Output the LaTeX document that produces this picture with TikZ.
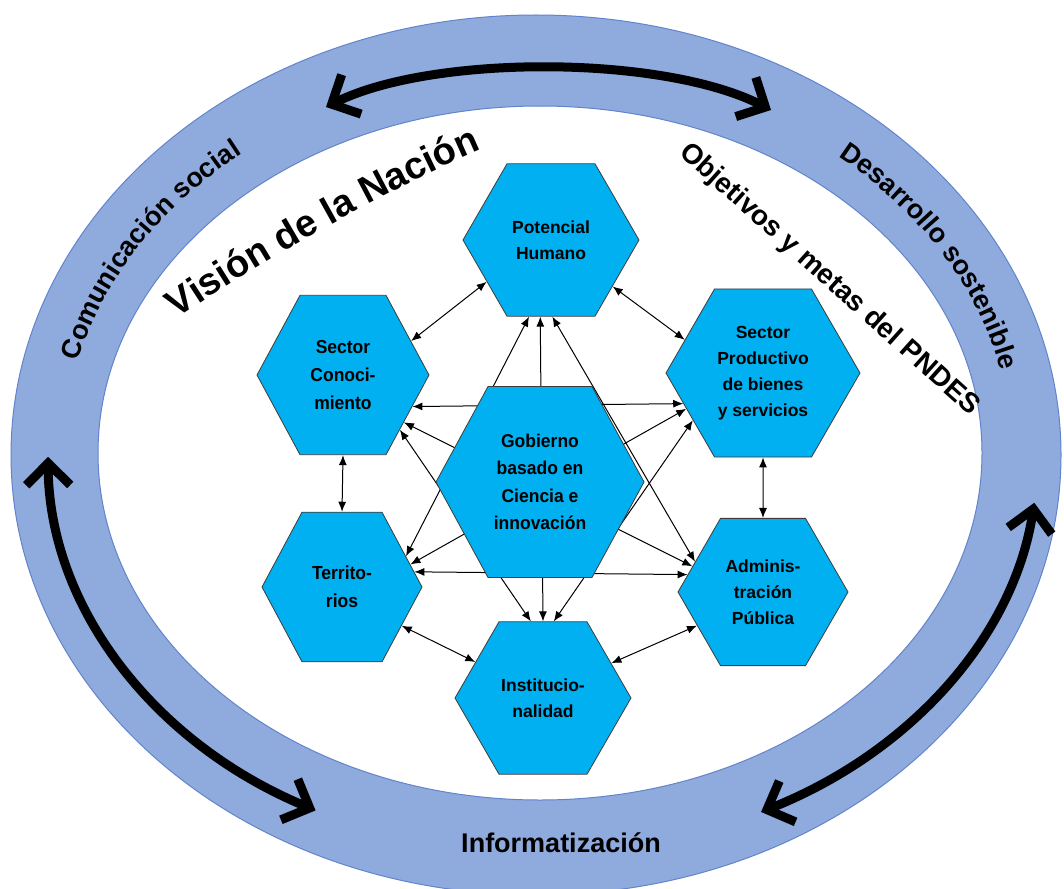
\documentclass[tikz,border=0pt]{standalone}
\usepackage{fontspec}
\setmainfont{Liberation Sans}
\usepackage{tikz}
\usetikzlibrary{shapes.geometric, arrows.meta, decorations.text}
\pgfdeclarelayer{background}
\pgfsetlayers{background,main}
\definecolor{ringblue}{RGB}{143,170,220}
\definecolor{ringline}{RGB}{98,132,204}
\definecolor{hexblue}{RGB}{0,176,240}
\definecolor{hexline}{RGB}{60,60,60}
\tikzset{
  hexa/.style={regular polygon, regular polygon sides=6, minimum size=#1,
    inner sep=0pt, fill=hexblue, draw=hexline, line width=0.8pt, align=center,
    font=\bfseries\fontsize{17.5}{26}\selectfont},
  link/.style={{Latex[length=10pt,width=8pt]}-{Latex[length=10pt,width=8pt]}, line width=1pt},
  bigarrow/.style={{Straight Barb[length=22pt,width=44pt]}-{Straight Barb[length=22pt,width=44pt]}, line width=9pt},
  ringlabel/.style={decorate, decoration={text along path, text align=center,
    text={|\bfseries\fontsize{27}{30}\selectfont|#1}}},
}

\begin{document}
\begin{tikzpicture}[x=1pt, y=1pt]
  \useasboundingbox (0,0) rectangle (1064,-888);
  \coordinate (O) at (538,-454);
  \filldraw[fill=ringblue, draw=ringline, line width=1pt, even odd rule]
    (536,-455) ellipse [x radius=525pt, y radius=440pt]
    (540,-453) ellipse [x radius=442pt, y radius=347pt];

  \coordinate (TL) at (326,-107);
  \coordinate (TR) at (771,-110);
  \draw[bigarrow] (TL) .. controls (433,-54) and (664,-55) .. (TR);
  \draw[bigarrow] ([shift={(180.4:490pt and 400pt)}]O) arc[start angle=180.4, end angle=243, x radius=490pt, y radius=400pt];
  \draw[bigarrow] ([shift={(-7:500pt and 400pt)}]O) arc[start angle=-7, end angle=-63.5, x radius=500pt, y radius=400pt];

  \path[ringlabel=Comunicación social]
    ([shift={(176:474pt and 384pt)}]O) arc[start angle=176, end angle=120, x radius=474pt, y radius=384pt];
  \path[ringlabel=Desarrollo sostenible]
    ([shift={(59:474pt and 384pt)}]O) arc[start angle=59, end angle=3, x radius=474pt, y radius=384pt];
  \node[font=\bfseries\fontsize{27}{30}\selectfont] (info) at (561,-843) {Informatización};

  \path[decorate, decoration={text along path, text align=center,
      text={|\bfseries\fontsize{38}{40}\selectfont|Visión de la Nación}}]
    (132,-350) .. controls (229,-279) and (410,-173) .. (532,-129);
  \path[decorate, decoration={text along path, text align=center,
      text={|\bfseries\fontsize{28}{30}\selectfont|Objetivos y metas del PNDES}}]
    (638,-118) -- (1010,-452);

  \node[hexa=176pt] (PH) at (551,-240) {Potencial\\Humano};
  \node[hexa=172pt, yscale=1.07] (SC) at (343,-375) {Sector\\Conoci-\\miento};
  \node[hexa=208pt, yscale=1.06] (GC) at (540,-482) {Gobierno\\basado en\\Ciencia e\\innovación};
  \node[hexa=160pt, yscale=1.08] (TE) at (342,-587) {Territo-\\rios};
  \node[hexa=194pt] (SP) at (763,-373) {Sector\\Productivo\\de bienes\\y servicios};
  \node[hexa=170pt] (AP) at (763,-592) {Adminis-\\tración\\Pública};
  \node[hexa=176pt] (IN) at (543,-698) {Institucio-\\nalidad};

  \draw[link] (SC.25) -- (PH.213);
  \draw[link] (PH.-37) -- (SP.157);
  \draw[link] (SC.south) -- (TE.north);
  \draw[link] (SP.south) -- (AP.north);
  \draw[link] (TE.-31) -- (IN.152);
  \draw[link] (AP.207) -- (IN.27);

  \begin{pgfonlayer}{background}
    \fill[white] (0,0) rectangle (1064,-888);
    \draw[link] (SC.-23) -- (SP.201);
    \draw[link] (TE.11) -- (AP.167);
    \draw[link] (PH.262) -- (IN.90);
    \draw[link] (PH.254) -- (TE.24);
    \draw[link] (PH.271) -- (AP.156);
    \draw[link] (SC.-42) -- (IN.99);
    \draw[link] (SP.214) -- (IN.82);
    \draw[link] (SC.-36) -- (AP.160);
    \draw[link] (SP.205) -- (TE.17);
  \end{pgfonlayer}
\end{tikzpicture}
\end{document}
